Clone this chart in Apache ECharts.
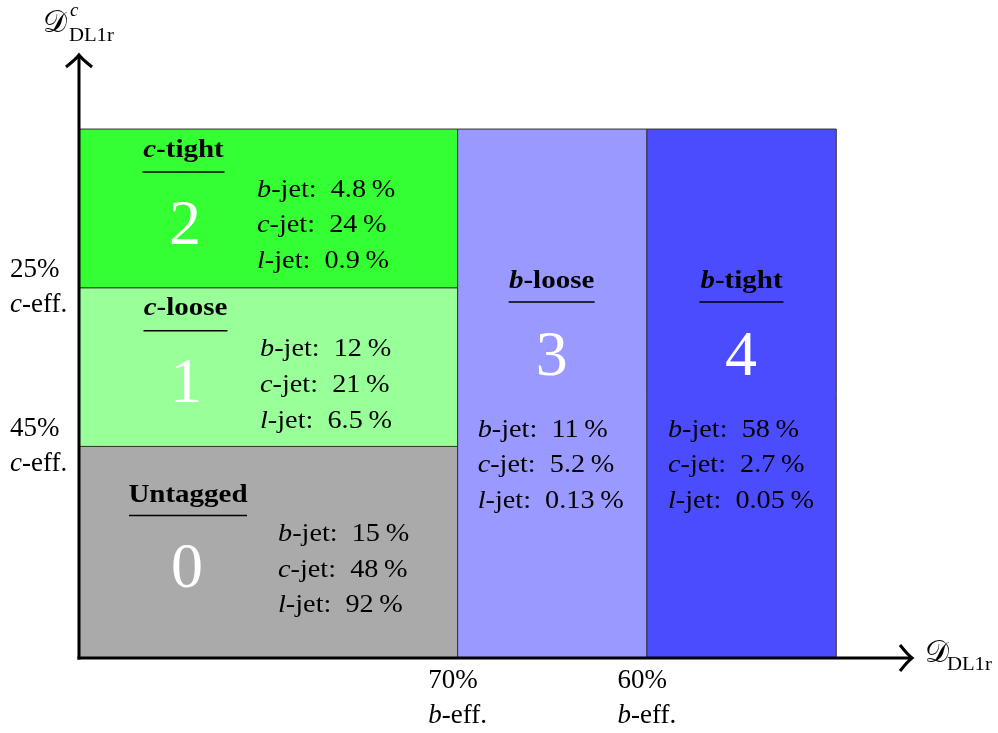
<!DOCTYPE html>
<html>
<head>
<meta charset="utf-8">
<script src="https://cdn.jsdelivr.net/npm/echarts@6/dist/echarts.min.js"></script>
<style>
  html, body { margin: 0; padding: 0; background: #ffffff; }
  #chart { width: 998px; height: 733px; }
</style>
</head>
<body>
<div id="chart"></div>
<script>
// Tagging regions in the DL1r discriminant plane (x: D_DL1r, y: D^c_DL1r)
const regionIds   = [0, 1, 2, 3, 4];
const regionNames = ['Untagged', 'c-loose', 'c-tight', 'b-loose', 'b-tight'];
const xFrom = [0, 0, 0, 2, 3];
const xTo   = [2, 2, 2, 3, 4];
const yFrom = [0, 4, 7, 0, 0];
const yTo   = [4, 7, 10, 10, 10];
const bJetEff = ['15', '12', '4.8', '11', '58'];
const cJetEff = ['48', '21', '24', '5.2', '2.7'];
const lJetEff = ['92', '6.5', '0.9', '0.13', '0.05'];
const xTickValues = [2, 3];
const xTickLabels = ['70%', '60%'];
const yTickValues = [4, 7];
const yTickLabels = ['45%', '25%'];
const xAxisEnd = 4.4;
const yAxisEnd = 11.4;

const FONT = '"Liberation Serif", "DejaVu Serif", serif';
const regionColors = ['#aaaaaa', '#99ff99', '#33ff33', '#9999ff', '#4c4cff'];
const WIDE = 1.13;   // horizontal stretch of the serif lettering

// label placement inside each region, in pixels from the region's top-left corner
const regionLayout = [
  { title: [109, 49],   rule: 69,  half: 59, num: [108, 124], stats: [199, 88] },
  { title: [106.5, 21], rule: 43,  half: 42, num: [107, 97],  stats: [181, 62] },
  { title: [104.5, 21], rule: 43,  half: 41, num: [106, 98],  stats: [178, 61] },
  { title: [94, 152],   rule: 173, half: 43, num: [94, 229],  stats: [20, 301] },
  { title: [94.5, 152], rule: 173, half: 42, num: [94, 229],  stats: [21, 301] }
];
const STAT_STEP = 35.7;

const regionData = regionIds.map(i => [xFrom[i], xTo[i], yFrom[i], yTo[i], i]);

function titleText(name) {
  const k = name.indexOf('-');
  if (k < 0) return '{b|' + name + '}';
  return '{bi|' + name.slice(0, k) + '}{b|' + name.slice(k) + '}';
}

function statText(flavour, value) {
  return '{i|' + flavour + '}{r|-jet:\u2002' + value + '\u2009%}';
}

const statRich = {
  i: { fontFamily: FONT, fontStyle: 'italic', fontSize: 25, color: '#000' },
  r: { fontFamily: FONT, fontSize: 25, color: '#000' }
};
const titleRich = {
  bi: { fontFamily: FONT, fontStyle: 'italic', fontWeight: 'bold', fontSize: 25, color: '#000' },
  b:  { fontFamily: FONT, fontWeight: 'bold', fontSize: 25, color: '#000' }
};

function renderRegion(params, api) {
  const i = api.value(4);
  const tl = api.coord([api.value(0), api.value(3)]);
  const br = api.coord([api.value(1), api.value(2)]);
  const L = regionLayout[i];
  const x0 = tl[0], y0 = tl[1];
  const children = [
    {
      type: 'rect',
      shape: { x: x0, y: y0, width: br[0] - x0, height: br[1] - y0 },
      style: { fill: regionColors[i], stroke: '#333333', lineWidth: 1 }
    },
    {
      type: 'text',
      x: x0 + L.title[0], y: y0 + L.title[1], scaleX: 1.16,
      style: { text: titleText(regionNames[i]), rich: titleRich, align: 'center', verticalAlign: 'middle' }
    },
    {
      type: 'line',
      shape: { x1: x0 + L.title[0] - L.half, y1: y0 + L.rule, x2: x0 + L.title[0] + L.half, y2: y0 + L.rule },
      style: { stroke: '#000', lineWidth: 1.5 }
    },
    {
      type: 'text',
      x: x0 + L.num[0], y: y0 + L.num[1],
      style: { text: String(regionIds[i]), fontFamily: FONT, fontSize: 64, fill: '#ffffff', align: 'center', verticalAlign: 'middle' }
    }
  ];
  const stats = [['b', bJetEff[i]], ['c', cJetEff[i]], ['l', lJetEff[i]]];
  stats.forEach((s, k) => {
    children.push({
      type: 'text',
      x: x0 + L.stats[0], y: y0 + L.stats[1] + k * STAT_STEP, scaleX: WIDE,
      style: { text: statText(s[0], s[1]), rich: statRich, align: 'left', verticalAlign: 'middle' }
    });
  });
  return { type: 'group', children: children };
}

function chevron(tip, dir) {
  // open arrow head pointing right (dir 'x') or up (dir 'y')
  const a = 12, b = 13;
  let d;
  if (dir === 'x') {
    d = 'M' + (tip[0] - a) + ' ' + (tip[1] - b) + ' Q' + (tip[0] - 4) + ' ' + (tip[1] - 3) + ' ' + tip[0] + ' ' + tip[1] +
        ' Q' + (tip[0] - 4) + ' ' + (tip[1] + 3) + ' ' + (tip[0] - a) + ' ' + (tip[1] + b);
  } else {
    d = 'M' + (tip[0] - b) + ' ' + (tip[1] + a) + ' Q' + (tip[0] - 3) + ' ' + (tip[1] + 4) + ' ' + tip[0] + ' ' + tip[1] +
        ' Q' + (tip[0] + 3) + ' ' + (tip[1] + 4) + ' ' + (tip[0] + b) + ' ' + (tip[1] + a);
  }
  return { type: 'path', shape: { pathData: d }, style: { fill: 'none', stroke: '#000', lineWidth: 3 } };
}

function renderAxes(params, api) {
  const o = api.coord([0, 0]);
  const xe = api.coord([xAxisEnd, 0]);
  const ye = api.coord([0, yAxisEnd]);
  const txt = (t, x, y, size, italic, sx) => ({
    type: 'text', x: x, y: y, scaleX: sx || 1,
    style: { text: t, fontFamily: FONT, fontSize: size, fontStyle: italic ? 'italic' : 'normal', fill: '#000', align: 'left', verticalAlign: 'middle' }
  });
  return {
    type: 'group',
    children: [
      { type: 'line', shape: { x1: o[0] - 1.5, y1: o[1], x2: xe[0] - 1, y2: xe[1] }, style: { stroke: '#000', lineWidth: 3 } },
      { type: 'line', shape: { x1: o[0], y1: o[1] + 1.5, x2: ye[0], y2: ye[1] + 1 }, style: { stroke: '#000', lineWidth: 3 } },
      chevron([xe[0], xe[1]], 'x'),
      chevron([ye[0], ye[1]], 'y'),
      // axis titles
      txt('\u{1D49F}', ye[0] - 36, ye[1] - 31, 30, false),
      txt('c', ye[0] - 9, ye[1] - 44, 19, true),
      txt('DL1r', ye[0] - 10, ye[1] - 19, 18, false, 1.15),
      txt('\u{1D49F}', xe[0] + 13, xe[1] - 4, 30, false),
      txt('DL1r', xe[0] + 35, xe[1] + 7, 18, false, 1.15)
    ]
  };
}

const chart = echarts.init(document.getElementById('chart'), null, { renderer: 'canvas' });

const tickRich = {
  a: { fontFamily: FONT, fontSize: 27, color: '#000', lineHeight: 35, align: 'left' },
  i: { fontFamily: FONT, fontSize: 27, fontStyle: 'italic', color: '#000', lineHeight: 35, align: 'left' }
};

chart.setOption({
  backgroundColor: '#ffffff',
  animation: false,
  grid: { left: 79, right: 86, top: 55, bottom: 75 },
  xAxis: {
    type: 'value', min: 0, max: xAxisEnd,
    axisLine: { show: false }, axisTick: { show: false }, splitLine: { show: false },
    axisLabel: {
      customValues: xTickValues,
      margin: 5,
      align: 'center',
      formatter: v => '{a|' + xTickLabels[xTickValues.indexOf(v)] + '}\n{i|b}{a|-eff.}',
      rich: tickRich
    }
  },
  yAxis: {
    type: 'value', min: 0, max: yAxisEnd,
    axisLine: { show: false }, axisTick: { show: false }, splitLine: { show: false },
    axisLabel: {
      customValues: yTickValues,
      margin: 69,
      align: 'left',
      verticalAlign: 'middle',
      formatter: v => '{a|' + yTickLabels[yTickValues.indexOf(v)] + '}\n{i|c}{a|-eff.}',
      rich: tickRich
    }
  },
  series: [
    {
      type: 'custom', name: 'regions', renderItem: renderRegion,
      data: regionData, silent: true, clip: false
    },
    {
      type: 'custom', name: 'axes', renderItem: renderAxes,
      data: [[0, 0]], silent: true, clip: false, z: 3
    }
  ]
});
</script>
</body>
</html>
